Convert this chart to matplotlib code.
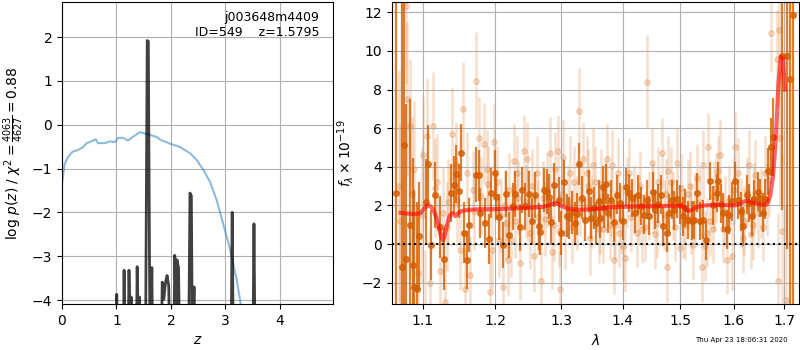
import numpy as np
import matplotlib
matplotlib.use('Agg')
import matplotlib.pyplot as plt
from matplotlib.ticker import NullLocator

# ---- left panel: redshift fit ----
chi2_z = [0.0, 0.05, 0.11, 0.20, 0.29, 0.39, 0.45, 0.54, 0.62, 0.66, 0.79, 0.88, 0.97,
          1.03, 1.12, 1.21, 1.31, 1.43, 1.58, 1.74, 1.80, 1.98, 2.17, 2.35, 2.47,
          2.60, 2.72, 2.84, 2.96, 3.09, 3.21, 3.28]
chi2_val = [-1.34, -0.89, -0.74, -0.61, -0.58, -0.51, -0.42, -0.38, -0.33, -0.42, -0.42,
            -0.38, -0.40, -0.30, -0.30, -0.36, -0.27, -0.17, -0.22, -0.28, -0.34, -0.43,
            -0.51, -0.65, -0.80, -1.04, -1.31, -1.72, -2.26, -2.86, -3.55, -4.08]

pz_z = [0.99, 1.005, 1.02, 1.12, 1.14, 1.165, 1.205, 1.23, 1.25, 1.27, 1.29,
        1.36, 1.38, 1.40, 1.42, 1.44, 1.53, 1.565, 1.585, 1.615, 1.635, 1.65, 1.67,
        1.82, 1.84, 1.87, 1.90, 1.93, 1.96, 1.99, 2.05, 2.07, 2.095, 2.11, 2.14, 2.17,
        2.32, 2.35, 2.375, 2.40, 2.41, 2.425, 2.445, 3.10, 3.125, 3.15, 3.50, 3.525, 3.55]
pz_logp = [-6, -3.87, -6, -6, -3.32, -6, -6, -3.32, -4.5, -3.93, -6,
           -6, -3.24, -4.6, -3.93, -6, -6, 1.92, 1.90, -5, -4.3, -3.26, -6,
           -6, -3.59, -3.98, -3.60, -3.44, -3.68, -6, -6, -2.98, -4.2, -3.08, -3.26, -6,
           -6, -1.56, -1.62, -6, -4.5, -3.70, -6, -6, -2.00, -6, -6, -2.26, -6]

# ---- right panel: G141 spectrum ----
lam_light = [1.0684, 1.0709, 1.0774, 1.0793, 1.0838, 1.0863, 1.0889, 1.0940, 1.0984, 1.1004,
             1.1024, 1.1050, 1.1102, 1.1141, 1.1160, 1.1193, 1.1237, 1.1270, 1.1304, 1.1332,
             1.1346, 1.1400, 1.1451, 1.1469, 1.1503, 1.1542, 1.1573, 1.1608, 1.1650, 1.1685,
             1.1706, 1.1735, 1.1767, 1.1805, 1.1848, 1.1887, 1.1905, 1.1924, 1.1958, 1.1981,
             1.2035, 1.2063, 1.2112, 1.2144, 1.2165, 1.2184, 1.2238, 1.2273, 1.2324, 1.2343,
             1.2373, 1.2423, 1.2473, 1.2493, 1.2523, 1.2574, 1.2624, 1.2644, 1.2685, 1.2751,
             1.2783, 1.2818, 1.2860, 1.2906, 1.2942, 1.2968, 1.2983, 1.3030, 1.3062, 1.3110,
             1.3141, 1.3193, 1.3250, 1.3286, 1.3351, 1.3406, 1.3428, 1.3461, 1.3505, 1.3542,
             1.3596, 1.3623, 1.3664, 1.3705, 1.3742, 1.3778, 1.3824, 1.3846, 1.3869, 1.3910,
             1.3960, 1.4005, 1.4033, 1.4074, 1.4096, 1.4183, 1.4241, 1.4268, 1.4326, 1.4382,
             1.4421, 1.4496, 1.4520, 1.4555, 1.4613, 1.4683, 1.4713, 1.4761, 1.4789, 1.4837,
             1.4878, 1.4950, 1.4998, 1.5052, 1.5089, 1.5143, 1.5179, 1.5241, 1.5272, 1.5315,
             1.5397, 1.5412, 1.5458, 1.5519, 1.5551, 1.5601, 1.5662, 1.5705, 1.5737, 1.5794,
             1.5864, 1.5909, 1.5960, 1.6024, 1.6089, 1.6143, 1.6187, 1.6260, 1.6306, 1.6330,
             1.6378, 1.6417, 1.6482, 1.6535, 1.6616, 1.6649, 1.6696, 1.6736, 1.6865, 1.6886,
             1.6900, 1.6920, 1.6955, 1.7043,
             1.2090, 1.2200, 1.2300, 1.2450, 1.2550, 1.2710, 1.2880, 1.3010, 1.3170, 1.3300,
             1.3480, 1.3640, 1.3800, 1.3940, 1.4130, 1.4290, 1.4450, 1.4590, 1.4740, 1.4910,
             1.5020, 1.5200, 1.5360, 1.5500, 1.5630, 1.5830, 1.6000, 1.6200, 1.6400, 1.6580]
flux_light = [3.0, 1.2, 12.3, 7.5, 6.1, 2.6, 3.9, -1.5, 1.5, 4.6,
              -3.3, 5.6, -2.0, 6.1, 2.9, 3.2, -1.4, 1.6, -3.0, 0.9,
              2.2, 5.7, 4.1, 2.3, -0.3, 7.0, -2.3, 3.7, -1.6, 2.8,
              1.7, 8.45, 5.5, 2.5, 5.2, 3.9, 3.1, -2.5, -0.3, 5.3,
              3.2, 0.2, -2.2, 2.0, 1.1, -0.8, 0.2, 4.3, 3.7, 2.4,
              -1.0, 4.8, 4.4, 2.0, 0.6, -0.6, 3.7, 1.4, -1.9, 1.3,
              2.8, 4.7, -0.4, 3.9, 4.8, 0.7, -2.3, 4.5, 0.6, 2.2,
              3.7, 3.2, 1.6, 6.9, 4.4, 3.7, 3.0, 0.3, 4.1, 3.2,
              0.8, 1.3, 0.8, 2.5, 4.4, 1.0, 4.1, -0.8, 1.0, 3.7,
              1.27, -0.12, -0.7, 2.7, 3.7, 2.3, 0.6, 1.8, 0.8, 0.9,
              8.4, 4.2, 2.4, 0.5, 3.2, 4.7, 1.5, -1.2, 3.8, 3.2,
              2.0, 4.2, -0.2, 1.1, 1.0, 2.6, 3.0, -0.03, 1.9, 3.4,
              -1.2, 4.1, -0.1, 5.0, 1.2, 0.8, 2.9, 3.8, 4.6, 0.8,
              -0.8, 2.3, -0.6, 5.05, 3.7, 1.6, 0.3, 2.7, 4.1, 0.5,
              1.0, 3.6, 1.6, 2.1, 3.7, 2.3, 3.3, 10.9, 9.6, -1.9,
              11.1, 5.5, 0.7, -2.9,
              1.5, 2.8, 1.2, 2.2, 3.0, 2.4, 1.0, 2.6, 0.9, 2.3,
              1.7, 3.1, 2.2, 0.6, 1.4, 3.0, 2.0, 1.1, 2.6, 0.9,
              2.9, 1.3, 2.2, 0.6, 2.5, 1.7, 2.8, 1.2, 2.4, 0.9]
err_light = [6.0, 5.0, 4.0, 4.0, 3.5, 4.0, 3.5, 3.5, 3.5, 3.0,
             3.0, 3.0, 2.8, 2.8, 2.6, 2.5, 2.5, 2.4, 2.3, 2.3,
             2.2, 2.4, 2.2, 2.2, 2.1, 2.4, 2.1, 2.1, 2.0, 2.0,
             2.0, 2.5, 2.1, 2.0, 2.1, 2.0, 2.0, 2.0, 2.0, 2.0,
             1.9, 1.9, 1.9, 1.9, 1.9, 1.9, 1.9, 1.9, 1.9, 1.9,
             1.9, 1.9, 1.9, 1.9, 1.9, 1.9, 1.9, 1.9, 1.9, 1.9,
             1.9, 1.9, 1.9, 1.9, 1.9, 1.9, 1.9, 1.9, 1.9, 1.9,
             1.9, 1.9, 1.9, 2.2, 1.9, 1.9, 1.9, 1.9, 1.9, 1.9,
             1.8, 1.8, 1.8, 1.8, 1.8, 1.8, 1.8, 1.8, 1.8, 1.8,
             1.8, 1.8, 1.8, 1.8, 1.8, 1.8, 1.8, 1.8, 1.8, 1.8,
             2.4, 1.8, 1.8, 1.8, 1.8, 1.8, 1.8, 1.8, 1.8, 1.8,
             1.8, 1.8, 1.8, 1.8, 1.8, 1.8, 1.8, 1.8, 1.8, 1.8,
             1.8, 1.8, 1.8, 1.8, 1.8, 1.8, 1.8, 1.8, 1.8, 1.8,
             1.8, 1.8, 1.8, 1.8, 1.8, 1.8, 1.8, 1.8, 1.8, 1.8,
             1.8, 1.8, 1.8, 1.8, 1.9, 1.9, 1.9, 2.0, 2.5, 3.5,
             3.0, 3.5, 4.0, 5.0,
             1.9, 1.9, 1.9, 1.9, 1.9, 1.9, 1.9, 1.9, 1.9, 1.9,
             1.9, 1.8, 1.8, 1.8, 1.8, 1.8, 1.8, 1.8, 1.8, 1.8,
             1.8, 1.8, 1.8, 1.8, 1.8, 1.8, 1.8, 1.8, 1.8, 1.8]

lam_dark = [1.0645, 1.0729, 1.0749, 1.0781, 1.0838, 1.0871, 1.0891, 1.0921, 1.0953, 1.1043,
            1.1069, 1.1106, 1.1170, 1.1237, 1.1291, 1.1387, 1.1419, 1.1451, 1.1487, 1.1524,
            1.1566, 1.1604, 1.1636, 1.1731, 1.1767, 1.1791, 1.1853, 1.1910, 1.1948, 1.2006,
            1.2020, 1.2054, 1.2112, 1.2161, 1.2199, 1.2258, 1.2299, 1.2363, 1.2398, 1.2448,
            1.2498, 1.2549, 1.2599, 1.2648, 1.2674, 1.2725, 1.2778, 1.2803, 1.2845, 1.2880,
            1.2957, 1.2994, 1.3035, 1.3089, 1.3125, 1.3168, 1.3219, 1.3245, 1.3286, 1.3335,
            1.3379, 1.3433, 1.3472, 1.3526, 1.3553, 1.3607, 1.3623, 1.3661, 1.3677, 1.3721,
            1.3758, 1.3802, 1.3857, 1.3897, 1.3952, 1.3999, 1.4056, 1.4096, 1.4155, 1.4212,
            1.4258, 1.4309, 1.4353, 1.4411, 1.4456, 1.4514, 1.4555, 1.4613, 1.4660, 1.4701,
            1.4761, 1.4802, 1.4850, 1.4891, 1.4939, 1.4998, 1.5047, 1.5089, 1.5149, 1.5211,
            1.5259, 1.5315, 1.5365, 1.5427, 1.5477, 1.5551, 1.5612, 1.5675, 1.5705, 1.5750,
            1.5800, 1.5864, 1.5914, 1.5960, 1.6024, 1.6077, 1.6136, 1.6187, 1.6254, 1.6300,
            1.6353, 1.6405, 1.6472, 1.6515, 1.6570, 1.6616, 1.6683, 1.6732, 1.6785, 1.6955,
            1.7071, 1.7124, 1.7180]
flux_dark = [2.67, -1.17, 5.14, -0.76, 1.0, -1.07, -2.22, -2.33, 0.42, 2.2,
             4.14, -0.04, 2.55, 0.9, -0.77, 2.64, 3.07, 3.64, 2.76, 4.74,
             0.6, -0.8, 1.0, 3.6, 3.55, 1.6, 1.1, 0.25, 2.63, 3.67,
             2.46, 1.4, -0.05, 2.6, 0.48, 1.95, 2.6, 0.86, 2.8, 1.95,
             2.6, 1.2, 2.55, 0.92, 0.65, 2.8, 2.72, 2.46, 1.12, 3.07,
             2.3, 0.57, 3.19, 1.47, 1.35, 1.64, 1.08, 1.55, 4.14, 2.41,
             1.25, 2.75, 1.35, 1.88, 1.08, 2.23, 1.35, 2.98, 1.87, 3.12,
             1.6, 2.3, 1.12, 2.55, 2.15, 1.2, 2.95, 2.64, 2.38, 1.6,
             2.55, 1.98, 1.52, 2.3, 1.47, 2.72, 1.78, 2.09, 2.55, 0.92,
             0.57, 1.6, 2.3, 1.74, 2.33, 2.04, 1.44, 1.87, 1.25, 1.22,
             1.25, 2.67, 1.19, 1.27, 0.2, 3.27, 2.0, 2.64, 3.24, 2.1,
             1.62, 0.76, 1.52, 2.22, 3.24, 2.3, 1.69, 0.92, 2.55, 2.12,
             1.44, 2.33, 2.72, 2.38, 1.62, 2.33, 3.76, 5.04, 5.54, 9.74,
             9.74, 8.54, 11.83]
err_dark = [20, 14, 10, 8, 6.5, 5.5, 5.0, 4.5, 2.8, 2.2,
            2.0, 1.8, 1.7, 1.6, 1.6, 1.5, 1.5, 1.5, 1.4, 1.5,
            1.6, 1.5, 1.4, 1.4, 1.3, 1.3, 1.3, 1.3, 1.3, 1.2,
            1.2, 1.2, 1.2, 1.2, 1.2, 1.2, 1.2, 1.2, 1.2, 1.2,
            1.2, 1.2, 1.2, 1.2, 1.2, 1.15, 1.15, 1.15, 1.15, 1.15,
            1.15, 1.15, 1.15, 1.1, 1.1, 1.1, 1.1, 1.1, 1.1, 1.1,
            1.1, 1.1, 1.1, 1.1, 1.1, 1.1, 1.05, 1.05, 1.05, 1.05,
            1.0, 1.0, 1.0, 1.0, 1.0, 1.0, 1.0, 1.0, 1.0, 1.0,
            1.0, 1.0, 1.0, 1.0, 1.0, 1.0, 1.0, 1.0, 1.0, 1.0,
            1.0, 1.0, 1.0, 1.0, 1.0, 1.0, 1.0, 1.0, 1.0, 1.0,
            1.0, 1.0, 1.0, 1.0, 1.0, 1.0, 1.0, 1.0, 1.0, 1.0,
            1.0, 1.0, 1.0, 1.0, 1.0, 1.0, 1.0, 1.0, 1.0, 1.0,
            1.0, 1.0, 1.0, 1.0, 1.0, 1.05, 1.2, 1.5, 2.0, 8,
            10, 15, 15]

model_lam = [1.071, 1.080, 1.090, 1.097, 1.102, 1.106, 1.110, 1.114, 1.118, 1.122,
             1.125, 1.127, 1.129, 1.132, 1.136, 1.140, 1.144, 1.148, 1.152, 1.158,
             1.165, 1.175, 1.19, 1.21, 1.23, 1.25, 1.27, 1.28, 1.288, 1.294,
             1.30, 1.31, 1.32, 1.33, 1.345, 1.36, 1.38, 1.40, 1.42, 1.45,
             1.48, 1.50, 1.508, 1.514, 1.520, 1.53, 1.545, 1.56, 1.58, 1.60,
             1.61, 1.62, 1.627, 1.635, 1.645, 1.655, 1.665, 1.672, 1.678, 1.684,
             1.6886, 1.6934, 1.6981, 1.7016]
model_flux = [1.62, 1.58, 1.55, 1.6, 1.85, 2.0, 1.95, 1.8, 1.4, 0.8,
              0.35, 0.2, 0.35, 0.9, 1.45, 1.6, 1.45, 1.6, 1.7, 1.75,
              1.78, 1.8, 1.8, 1.82, 1.85, 1.88, 1.92, 2.0, 2.12, 2.1,
              1.98, 1.85, 1.8, 1.78, 1.8, 1.84, 1.9, 1.93, 1.95, 1.96,
              1.98, 2.0, 1.9, 1.72, 1.75, 1.92, 2.0, 2.02, 2.02, 2.0,
              2.05, 2.2, 2.25, 2.15, 2.1, 2.05, 2.05, 2.5, 3.6, 5.7,
              8.3, 9.7, 9.6, 8.0]

wave_ticks = [1.1, 1.2, 1.3, 1.4, 1.5, 1.6, 1.7]
wave_labels = ['1.1', '1.2', '1.3', '1.4', '1.5', '1.6', '1.7']

G141 = (0.835, 0.369, 0.0)

fig = plt.figure(figsize=(8, 3.5), dpi=100)

ax = fig.add_axes([0.0775, 0.1314, 0.339, 0.863])
ax.plot(chi2_z, chi2_val, color='C0', alpha=0.5, lw=1.5)
ax.plot(pz_z, pz_logp, color='k', alpha=0.75, lw=2)
ax.set_xlim(0, 4.98)
ax.set_ylim(-4.09, 2.8)
ax.set_xticks([0, 1, 2, 3, 4])
ax.set_yticks([-4, -3, -2, -1, 0, 1, 2])
ax.grid()
ax.set_xlabel('$z$')
ax.set_ylabel(r'log $p(z)$ / $\chi^2=\frac{4063}{4627}=0.88$')
ax.text(0.95, 0.97, 'j003648m4409\nID=549    z=1.5795', ha='right', va='top',
        transform=ax.transAxes, fontsize=9)

ax = fig.add_axes([0.49, 0.1314, 0.50875, 0.863])
ax.errorbar(lam_light, flux_light, yerr=err_light, fmt='o', color=G141, alpha=0.2,
            ms=4, elinewidth=1.8, capsize=0, zorder=1)
ax.errorbar(lam_dark, flux_dark, yerr=err_dark, fmt='o', color=G141, alpha=0.8,
            ms=4, elinewidth=1.6, capsize=0, zorder=2)
ax.plot(model_lam, model_flux, color='r', alpha=0.6, lw=3, zorder=3)
ax.axhline(0, color='k', linestyle=':', lw=1.5, zorder=4)
ax.set_xscale('log')
ax.set_xlim(1.06, 1.731)
ax.set_ylim(-3.1, 12.53)
ax.set_xticks(wave_ticks)
ax.set_xticklabels(wave_labels)
ax.xaxis.set_minor_locator(NullLocator())
ax.set_yticks([-2, 0, 2, 4, 6, 8, 10, 12])
ax.grid()
ax.set_xlabel(r'$\lambda$')
ax.set_ylabel(r'$f_\lambda\times10^{-19}$')

fig.text(0.984, 0.02, 'Thu Apr 23 18:06:31 2020', ha='right', va='bottom', fontsize=5)

fig.savefig('out.png', dpi=100)
